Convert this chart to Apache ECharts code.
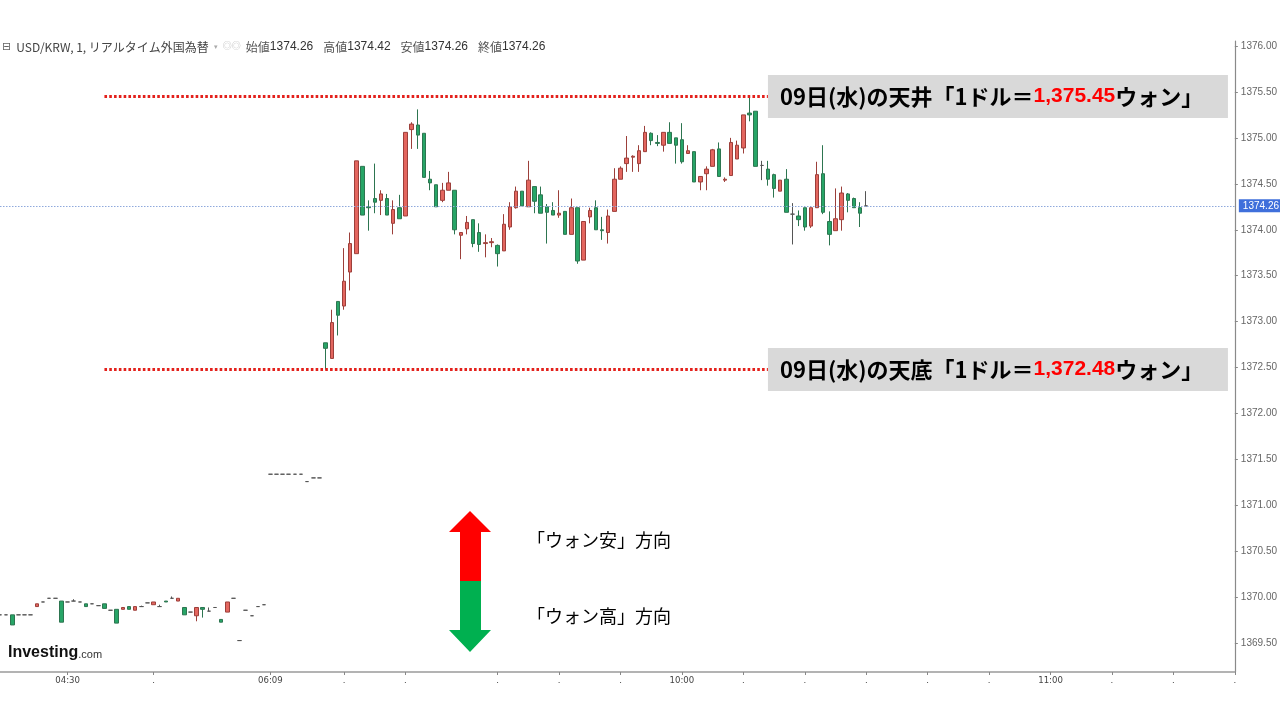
<!DOCTYPE html>
<html>
<head>
<meta charset="utf-8">
<script src="https://cdn.jsdelivr.net/npm/echarts@6/dist/echarts.min.js"></script>
<style>
html,body{margin:0;padding:0;background:#fff;}
#chart{width:1280px;height:720px;}
</style>
</head>
<body>
<div id="chart"></div>
<script>
// ---- DATA ----
// each candle: [slot, open, close, low, high]
const earlyCandles = [
  [0,1369.81,1369.81,1369.81,1369.81],[1,1369.81,1369.81,1369.81,1369.81],
  [2,1369.81,1369.70,1369.70,1369.81],[3,1369.81,1369.81,1369.81,1369.81],
  [4,1369.81,1369.81,1369.81,1369.81],[5,1369.81,1369.81,1369.81,1369.81],
  [6,1369.90,1369.93,1369.90,1369.93],[7,1369.95,1369.95,1369.95,1369.95],
  [8,1369.99,1369.99,1369.99,1369.99],[9,1369.99,1369.99,1369.99,1369.99],
  [10,1369.96,1369.73,1369.73,1369.96],[11,1369.95,1369.95,1369.95,1369.95],
  [12,1369.96,1369.96,1369.96,1369.98],[13,1369.95,1369.95,1369.95,1369.95],
  [14,1369.93,1369.90,1369.90,1369.93],[15,1369.93,1369.93,1369.93,1369.93],
  [16,1369.91,1369.91,1369.91,1369.91],[17,1369.93,1369.88,1369.88,1369.93],
  [18,1369.86,1369.86,1369.86,1369.86],[19,1369.87,1369.72,1369.72,1369.87],
  [20,1369.87,1369.89,1369.87,1369.89],[21,1369.90,1369.87,1369.87,1369.90],
  [22,1369.86,1369.90,1369.86,1369.90],[23,1369.90,1369.90,1369.90,1369.91],
  [24,1369.94,1369.94,1369.94,1369.94],[25,1369.92,1369.95,1369.92,1369.95],
  [26,1369.90,1369.90,1369.90,1369.92],[27,1369.96,1369.95,1369.95,1369.96],
  [28,1369.99,1369.99,1369.99,1370.01],[29,1369.96,1369.99,1369.96,1369.99],
  [30,1369.89,1369.81,1369.81,1369.89],[31,1369.84,1369.84,1369.84,1369.84],
  [32,1369.80,1369.89,1369.74,1369.89],[33,1369.89,1369.87,1369.78,1369.89],
  [34,1369.85,1369.85,1369.85,1369.89],[35,1369.89,1369.89,1369.89,1369.89],
  [36,1369.76,1369.73,1369.73,1369.76],[37,1369.84,1369.95,1369.84,1369.95],
  [38,1369.99,1369.99,1369.99,1369.99],[39,1369.53,1369.53,1369.53,1369.53],
  [40,1369.86,1369.86,1369.86,1369.86],[41,1369.80,1369.80,1369.80,1369.80],
  [42,1369.90,1369.90,1369.90,1369.90],[43,1369.92,1369.92,1369.92,1369.92]
];
const flatTicks = [
  [44,1371.34,1371.34,1371.34,1371.34],[45,1371.34,1371.34,1371.34,1371.34],
  [46,1371.34,1371.34,1371.34,1371.34],[47,1371.34,1371.34,1371.34,1371.34],
  [48,1371.34,1371.34,1371.34,1371.34],[49,1371.34,1371.34,1371.34,1371.34],
  [50,1371.26,1371.26,1371.26,1371.26],[51,1371.30,1371.30,1371.30,1371.30],
  [52,1371.30,1371.30,1371.30,1371.30]
];
const sessionCandles = [
  [53,1372.77,1372.71,1372.48,1372.77],[54,1372.60,1372.99,1372.60,1373.13],
  [55,1373.22,1373.07,1372.85,1373.22],[56,1373.17,1373.44,1373.13,1373.80],
  [57,1373.54,1373.85,1373.34,1373.97],[58,1373.74,1374.75,1373.74,1374.75],
  [59,1374.69,1374.16,1374.16,1374.69],[60,1374.25,1374.24,1373.99,1374.32],
  [61,1374.34,1374.30,1374.18,1374.72],[62,1374.32,1374.39,1374.16,1374.43],
  [63,1374.34,1374.16,1374.16,1374.39],[64,1374.07,1374.22,1373.95,1374.32],
  [65,1374.24,1374.12,1374.12,1374.38],[66,1374.15,1375.06,1374.15,1375.06],
  [67,1375.09,1375.15,1374.88,1375.17],[68,1375.14,1375.03,1374.88,1375.31],
  [69,1375.05,1374.57,1374.57,1375.05],[70,1374.55,1374.51,1374.43,1374.64],
  [71,1374.49,1374.25,1374.25,1374.49],[72,1374.32,1374.43,1374.30,1374.51],
  [73,1374.43,1374.51,1374.43,1374.63],[74,1374.43,1374.00,1373.95,1374.43],
  [75,1373.94,1373.97,1373.68,1373.97],[76,1374.01,1374.08,1373.95,1374.15],
  [77,1374.11,1373.85,1373.81,1374.11],[78,1373.97,1373.84,1373.76,1374.07],
  [79,1373.85,1373.86,1373.70,1373.95],[80,1373.86,1373.87,1373.81,1373.91],
  [81,1373.83,1373.74,1373.60,1373.84],[82,1373.77,1374.06,1373.77,1374.17],
  [83,1374.03,1374.25,1374.00,1374.30],[84,1374.24,1374.42,1374.23,1374.47],
  [85,1374.42,1374.26,1374.26,1374.42],[86,1374.25,1374.54,1374.25,1374.75],
  [87,1374.47,1374.31,1374.18,1374.47],[88,1374.38,1374.18,1374.18,1374.47],
  [89,1374.25,1374.19,1373.85,1374.28],[90,1374.21,1374.16,1374.16,1374.30],
  [91,1374.16,1374.18,1374.13,1374.43],[92,1374.20,1373.95,1373.95,1374.20],
  [93,1373.95,1374.24,1373.95,1374.34],[94,1374.24,1373.66,1373.63,1374.24],
  [95,1373.67,1374.09,1373.67,1374.09],[96,1374.14,1374.21,1374.07,1374.24],
  [97,1374.24,1374.00,1374.00,1374.32],[98,1374.00,1373.99,1373.89,1374.14],
  [99,1373.97,1374.15,1373.85,1374.22],[100,1374.20,1374.55,1374.20,1374.67],
  [101,1374.55,1374.67,1374.55,1374.69],[102,1374.72,1374.78,1374.63,1375.02],
  [103,1374.79,1374.80,1374.63,1374.81],[104,1374.72,1374.86,1374.63,1374.92],
  [105,1374.85,1375.06,1374.85,1375.13],[106,1375.05,1374.97,1374.92,1375.06],
  [107,1374.95,1374.94,1374.91,1375.03],[108,1374.92,1375.06,1374.85,1375.06],
  [109,1375.06,1374.94,1374.94,1375.17],[110,1375.00,1374.92,1374.72,1375.00],
  [111,1374.98,1374.74,1374.72,1375.16],[112,1374.83,1374.86,1374.83,1374.92],
  [113,1374.85,1374.52,1374.52,1374.85],[114,1374.52,1374.58,1374.43,1374.58],
  [115,1374.61,1374.66,1374.43,1374.69],[116,1374.69,1374.87,1374.69,1374.88],
  [117,1374.88,1374.58,1374.58,1374.95],[118,1374.54,1374.55,1374.52,1374.57],
  [119,1374.59,1374.95,1374.59,1375.00],[120,1374.77,1374.92,1374.77,1374.97],
  [121,1374.89,1375.25,1374.83,1375.25],[122,1375.27,1375.25,1375.18,1375.45],
  [123,1375.29,1374.69,1374.69,1375.29],[124,1374.70,1374.70,1374.54,1374.75],
  [125,1374.66,1374.55,1374.48,1374.75],[126,1374.60,1374.45,1374.35,1374.61],
  [127,1374.42,1374.54,1374.42,1374.54],[128,1374.55,1374.19,1374.19,1374.66],
  [129,1374.17,1374.17,1373.84,1374.29],[130,1374.15,1374.11,1374.04,1374.21],
  [131,1374.24,1374.03,1373.99,1374.24],[132,1374.04,1374.24,1374.02,1374.24],
  [133,1374.24,1374.60,1374.24,1374.74],[134,1374.61,1374.19,1374.17,1374.92],
  [135,1374.09,1373.95,1373.83,1374.20],[136,1373.99,1374.12,1373.99,1374.45],
  [137,1374.11,1374.40,1373.99,1374.47],[138,1374.39,1374.32,1374.19,1374.40],
  [139,1374.34,1374.24,1374.24,1374.35],[140,1374.24,1374.18,1374.03,1374.30],
  [141,1374.26,1374.26,1374.26,1374.42]
];
const slotCount = 202;
const xTickSlots  = [11, 25, 44, 56, 66, 81, 91, 101, 111, 121, 131, 141, 151, 161, 171, 181, 191, 201];
const xTickLabels = ['04:30','.','06:09','.','.','.','.','.','10:00','.','.','.','.','.','11:00','.','.','.'];
const yTicks = [1369.5,1370,1370.5,1371,1371.5,1372,1372.5,1373,1373.5,1374,1374.5,1375,1375.5,1376];
const yMin = 1369.188, yMax = 1376.054;
const dayHigh = 1375.45, dayLow = 1372.48;
const annotSlots = [17, 125];

// ---- BUILD ----
const categories = [];
for (let i = 0; i < slotCount; i++) categories.push(String(i));
const tickMap = {};
xTickSlots.forEach((s, k) => { tickMap[s] = xTickLabels[k]; });
const allCandles = earlyCandles.concat(flatTicks, sessionCandles);
const last = sessionCandles[sessionCandles.length - 1];
const fmt2 = v => v.toFixed(2);
const fmtComma = v => v.toLocaleString('en-US', {minimumFractionDigits: 2, maximumFractionDigits: 2});

const JP = "'Noto Sans CJK JP', sans-serif";
const chart = echarts.init(document.getElementById('chart'), null, {renderer: 'canvas'});

function annotLabel(prefix, val) {
  return {
    show: true,
    position: 'end',
    distance: 0,
    formatter: '{t|' + prefix + '}{n|' + fmtComma(val) + '}{t|ウォン」}',
    backgroundColor: '#d9d9d9',
    padding: [8, 10, 8, 12],
    width: 438,
    rich: {
      t: {fontFamily: JP, fontSize: 22, fontWeight: 'bold', color: '#000', lineHeight: 27},
      n: {fontFamily: "'Liberation Sans', sans-serif", fontSize: 21, fontWeight: 'bold', color: '#ff0000', lineHeight: 27}
    }
  };
}
const redLine = {color: '#e3201b', width: 2.8, type: [2.6, 2.2]};

const option = {
  animation: false,
  textStyle: {fontFamily: "'Liberation Sans', 'Noto Sans CJK JP', sans-serif"},
  title: {
    left: 2, top: 38, padding: 0,
    text: '{i|⊟} {m|USD/KRW, 1, リアルタイム外国為替} {g|▾} {c|◎◎} {l|始値}{v|' + fmt2(last[1]) + '}  {l|高値}{v|' + fmt2(last[4]) +
          '}  {l|安値}{v|' + fmt2(last[3]) + '}  {l|終値}{v|' + fmt2(last[2]) + '}',
    textStyle: {
      fontWeight: 'normal',
      rich: {
        i: {fontSize: 11, color: '#666', fontWeight: 'normal', fontFamily: "'DejaVu Sans', sans-serif"},
        m: {fontSize: 12, color: '#444', fontWeight: 'normal', fontFamily: JP},
        g: {fontSize: 7, color: '#aaa', fontWeight: 'normal'},
        c: {fontSize: 9, color: '#bbb', fontWeight: 'normal'},
        l: {fontSize: 12, color: '#555', fontWeight: 'normal', fontFamily: JP},
        v: {fontSize: 12, color: '#333', fontWeight: 'normal', fontFamily: "'Liberation Sans', sans-serif"}
      }
    }
  },
  grid: {left: 0, right: 40, top: 41, bottom: 48, containLabel: false},
  xAxis: {
    type: 'category',
    data: categories,
    boundaryGap: false,
    axisLine: {show: true, lineStyle: {color: '#9a9a9a', width: 1.5}},
    axisTick: {show: true, interval: (i) => tickMap[i] !== undefined, length: 3, lineStyle: {color: '#888'}},
    axisLabel: {
      interval: (i) => tickMap[i] !== undefined,
      formatter: (v, i) => tickMap[i] || '',
      color: '#444', fontSize: 9.5, margin: 4,
      fontFamily: "'DejaVu Sans Condensed', 'Liberation Sans', sans-serif"
    },
    splitLine: {show: false}
  },
  yAxis: {
    type: 'value',
    position: 'right',
    min: yMin, max: yMax,
    axisLine: {show: true, lineStyle: {color: '#8a8a8a', width: 1.2}},
    axisTick: {show: true, length: 3, customValues: yTicks, lineStyle: {color: '#888'}},
    axisLabel: {customValues: yTicks, formatter: v => fmt2(v), color: '#666', fontSize: 10, margin: 6},
    splitLine: {show: false}
  },
  series: [{
    type: 'candlestick',
    data: allCandles,
    encode: {x: 0, y: [1, 2, 3, 4]},
    barWidth: 4,
    itemStyle: {
      color: '#e3665f', color0: '#27a567',
      borderColor: '#9c3f3a', borderColor0: '#2d7550',
      borderColorDoji: '#555', borderWidth: 1
    },
    markLine: {
      silent: true,
      symbol: ['none', 'none'],
      animation: false,
      data: [
        {
          yAxis: last[2],
          lineStyle: {color: '#8fa9dc', width: 1, type: [1.5, 1.5]},
          label: {show: true, position: 'end', distance: 4, formatter: fmt2(last[2]), color: '#fff',
                  backgroundColor: '#3f6fdb', padding: [2, 4, 1, 4], fontSize: 10}
        },
        [
          {coord: [annotSlots[0], dayHigh], lineStyle: redLine, label: annotLabel('09日(水)の天井「1ドル＝', dayHigh)},
          {coord: [annotSlots[1], dayHigh], lineStyle: redLine, label: annotLabel('09日(水)の天井「1ドル＝', dayHigh)}
        ],
        [
          {coord: [annotSlots[0], dayLow], lineStyle: redLine, label: annotLabel('09日(水)の天底「1ドル＝', dayLow)},
          {coord: [annotSlots[1], dayLow], lineStyle: redLine, label: annotLabel('09日(水)の天底「1ドル＝', dayLow)}
        ]
      ]
    }
  }],
  graphic: [
    {type: 'polygon', shape: {points: [[470,511],[491,532],[481,532],[481,581],[460,581],[460,532],[449,532]]},
     style: {fill: '#ff0000'}},
    {type: 'polygon', shape: {points: [[460,581],[481,581],[481,630],[491,630],[470,652],[449,630],[460,630]]},
     style: {fill: '#00b050'}},
    {type: 'text', left: 527, top: 531, style: {text: '「ウォン安」方向', font: "18px 'Noto Sans CJK JP'", fill: '#000'}},
    {type: 'text', left: 527, top: 607, style: {text: '「ウォン高」方向', font: "18px 'Noto Sans CJK JP'", fill: '#000'}},
    {type: 'text', left: 8, top: 645, style: {
      text: '{a|Investing}{b|.com}',
      rich: {
        a: {font: "bold 16px 'Liberation Sans'", fill: '#111'},
        b: {font: "11px 'Liberation Sans'", fill: '#333', padding: [3, 0, 0, 0]}
      }
    }}
  ]
};
chart.setOption(option);
</script>
</body>
</html>
